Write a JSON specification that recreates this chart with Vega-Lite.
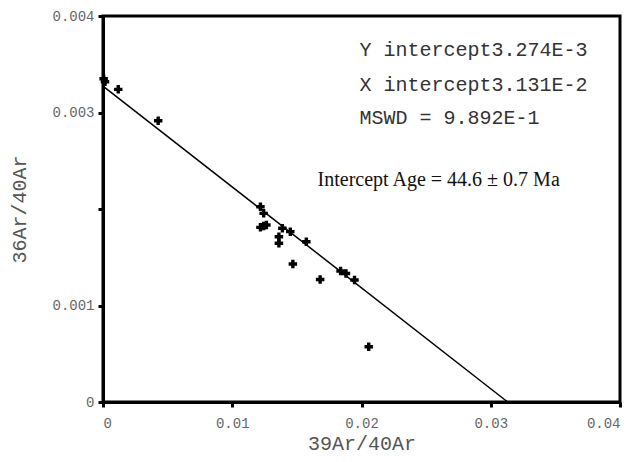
{
  "$schema": "https://vega.github.io/schema/vega-lite/v6.json",
  "width": 517,
  "height": 386,
  "autosize": {"type": "none"},
  "padding": {"left": 103, "top": 16, "right": 6, "bottom": 60},
  "background": "white",
  "config": {
    "view": {"stroke": "black", "strokeWidth": 3},
    "axis": {
      "grid": false,
      "domainColor": "black",
      "domainWidth": 3,
      "tickColor": "black",
      "tickWidth": 3,
      "tickSize": 5,
      "labelFont": "Liberation Mono",
      "labelFontSize": 14,
      "labelColor": "#666666",
      "titleFont": "Liberation Mono",
      "titleFontSize": 20,
      "titleFontWeight": "normal",
      "titleColor": "#555555"
    }
  },
  "datasets": {
    "pts": [
      {"x": 0.00005, "y": 0.00335},
      {"x": 0.000154, "y": 0.003319},
      {"x": 0.00118, "y": 0.00324},
      {"x": 0.00427, "y": 0.002915},
      {"x": 0.01218, "y": 0.002024},
      {"x": 0.01243, "y": 0.001955},
      {"x": 0.01218, "y": 0.00181},
      {"x": 0.01264, "y": 0.001834},
      {"x": 0.01243, "y": 0.001824},
      {"x": 0.01388, "y": 0.0018},
      {"x": 0.01449, "y": 0.001765},
      {"x": 0.01361, "y": 0.001713},
      {"x": 0.01361, "y": 0.001645},
      {"x": 0.01573, "y": 0.001661},
      {"x": 0.01469, "y": 0.00143},
      {"x": 0.0168, "y": 0.00127},
      {"x": 0.01838, "y": 0.001358},
      {"x": 0.0188, "y": 0.001332},
      {"x": 0.01946, "y": 0.001264},
      {"x": 0.02056, "y": 0.000573}
    ],
    "fit": [
      {"x": 0, "y": 0.003274},
      {"x": 0.03131, "y": 0}
    ],
    "mono": [
      {"x": 0.01985, "y": 0.003648, "t": "Y intercept3.274E-3"},
      {"x": 0.01985, "y": 0.003285, "t": "X intercept3.131E-2"},
      {"x": 0.01985, "y": 0.002943, "t": "MSWD =  9.892E-1"}
    ],
    "serif": [
      {"x": 0.0166, "y": 0.0023, "t": "Intercept Age = 44.6 ± 0.7 Ma"}
    ]
  },
  "layer": [
    {
      "data": {"name": "fit"},
      "mark": {"type": "line", "color": "black", "strokeWidth": 1.5},
      "encoding": {
        "x": {
          "field": "x", "type": "quantitative",
          "scale": {"domain": [0, 0.04], "nice": false},
          "axis": {
            "values": [0, 0.01, 0.02, 0.03, 0.04],
            "labelExpr": "format(datum.value, '~g')",
            "labelPadding": 9,
            "title": "39Ar/40Ar",
            "titlePadding": 3
          }
        },
        "y": {
          "field": "y", "type": "quantitative",
          "scale": {"domain": [0, 0.004], "nice": false},
          "axis": {
            "values": [0, 0.001, 0.002, 0.003, 0.004],
            "labelExpr": "datum.value == 0.002 ? '' : format(datum.value, '~g')",
            "labelPadding": 4,
            "title": "36Ar/40Ar",
            "titlePadding": 22
          }
        }
      }
    },
    {
      "data": {"name": "pts"},
      "mark": {"type": "point", "shape": "cross", "filled": true, "color": "black", "size": 72, "opacity": 1},
      "encoding": {
        "x": {"field": "x", "type": "quantitative"},
        "y": {"field": "y", "type": "quantitative"}
      }
    },
    {
      "data": {"name": "mono"},
      "mark": {"type": "text", "font": "Liberation Mono", "fontSize": 20, "align": "left", "baseline": "middle", "color": "#333333"},
      "encoding": {
        "x": {"field": "x", "type": "quantitative"},
        "y": {"field": "y", "type": "quantitative"},
        "text": {"field": "t"}
      }
    },
    {
      "data": {"name": "serif"},
      "mark": {"type": "text", "font": "Liberation Serif", "fontSize": 20, "align": "left", "baseline": "middle", "color": "#111111"},
      "encoding": {
        "x": {"field": "x", "type": "quantitative"},
        "y": {"field": "y", "type": "quantitative"},
        "text": {"field": "t"}
      }
    }
  ]
}
